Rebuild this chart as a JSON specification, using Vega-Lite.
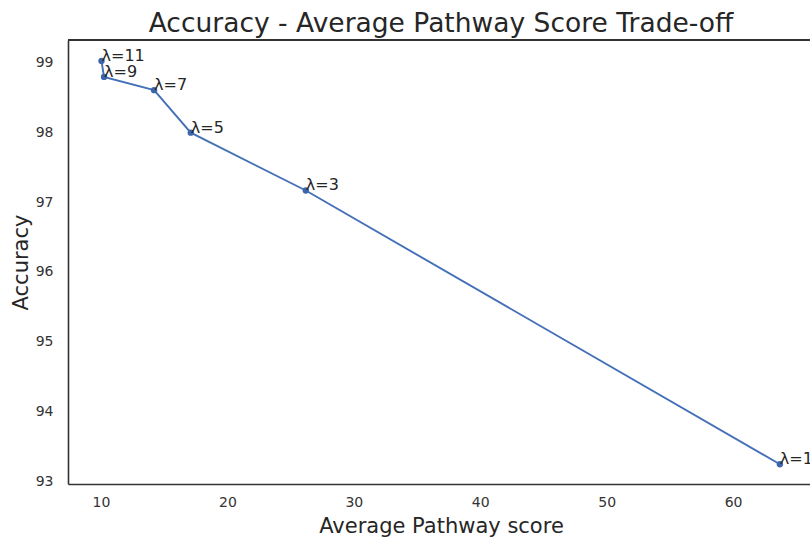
{
  "$schema": "https://vega.github.io/schema/vega-lite/v6.json",
  "autosize": {"type": "none"},
  "padding": {"left": 68, "top": 40, "right": 0, "bottom": 53},
  "width": 746,
  "height": 444,
  "background": "white",
  "config": {
    "view": {"stroke": null},
    "font": "DejaVu Sans",
    "axis": {"grid": false, "ticks": false, "domainColor": "#333333", "domainWidth": 1.6, "labelColor": "#333333", "labelFontSize": 14, "labelFont": "DejaVu Sans", "titleFont": "DejaVu Sans", "titleFontWeight": "normal", "titleColor": "#262626", "titleFontSize": 21}
  },
  "title": {"text": "Accuracy - Average Pathway Score Trade-off", "fontSize": 26.5, "font": "DejaVu Sans", "fontWeight": "normal", "color": "#262626", "offset": 2, "anchor": "middle"},
  "data": {"values": [
    {"score": 10.04, "acc": 99.03, "label": "λ=11", "order": 1},
    {"score": 10.24, "acc": 98.80, "label": "λ=9", "order": 2},
    {"score": 14.2, "acc": 98.61, "label": "λ=7", "order": 3},
    {"score": 17.1, "acc": 98.0, "label": "λ=5", "order": 4},
    {"score": 26.2, "acc": 97.17, "label": "λ=3", "order": 5},
    {"score": 63.7, "acc": 93.24, "label": "λ=1", "order": 6}
  ]},
  "encoding": {
    "x": {"field": "score", "type": "quantitative", "scale": {"domain": [7.39, 66.4], "nice": false, "zero": false},
      "axis": {"title": "Average Pathway score", "values": [10, 20, 30, 40, 50, 60], "labelPadding": 11, "titlePadding": 6}},
    "y": {"field": "acc", "type": "quantitative", "scale": {"domain": [92.957, 99.33], "nice": false, "zero": false},
      "axis": {"title": "Accuracy", "values": [93, 94, 95, 96, 97, 98, 99], "labelPadding": 15, "titlePadding": 4}}
  },
  "layer": [
    {"mark": {"type": "line", "color": "#4470b8", "strokeWidth": 1.9}, "encoding": {"order": {"field": "order", "type": "quantitative"}}},
    {"mark": {"type": "point", "filled": true, "color": "#3b66ae", "size": 40, "opacity": 1}},
    {"mark": {"type": "text", "align": "left", "baseline": "alphabetic", "dx": 0, "dy": 0, "fontSize": 16, "color": "#262626"}, "encoding": {"text": {"field": "label"}}},
    {"mark": {"type": "rule", "color": "#333333", "strokeWidth": 1.6}, "encoding": {"y": {"datum": 99.33}, "x": {"datum": 7.39}, "x2": {"datum": 66.4}}}
  ]
}
